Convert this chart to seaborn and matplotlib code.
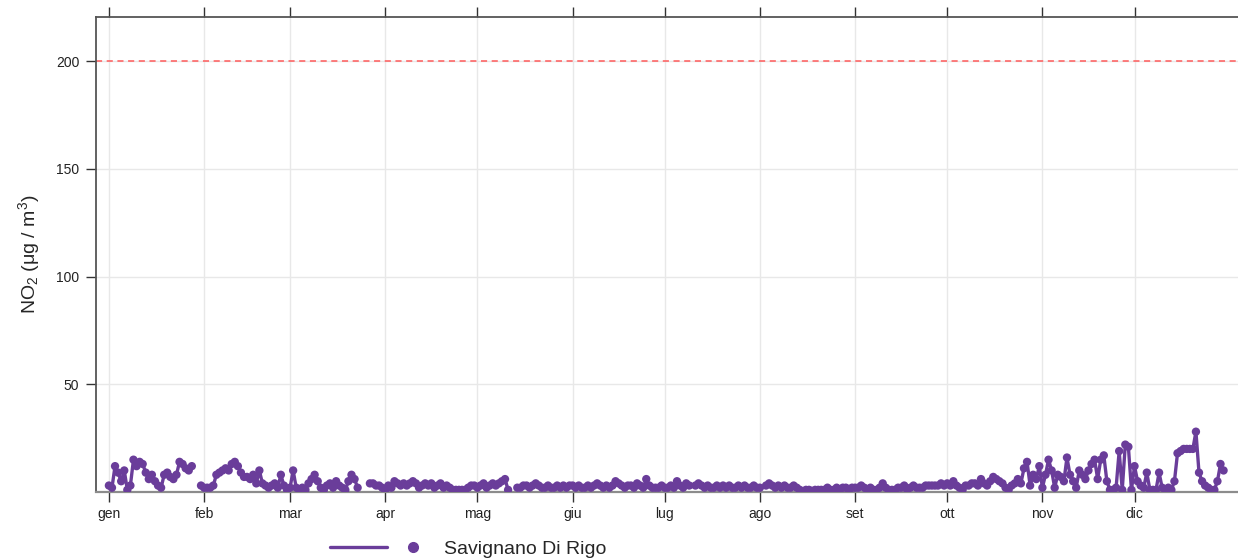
import numpy as np
import pandas as pd
import matplotlib
matplotlib.use("Agg")
import matplotlib.pyplot as plt
import seaborn as sns
from matplotlib.lines import Line2D
from matplotlib.legend_handler import HandlerTuple

# ---------------- data ----------------
station = "Savignano Di Rigo"
start_date = "2023-01-01"
month_labels = ["gen", "feb", "mar", "apr", "mag", "giu",
                "lug", "ago", "set", "ott", "nov", "dic"]
y_ticks = [50, 100, 150, 200]
limit_value = 200
N = None
# daily NO2 (µg/m3), None = missing day
no2_values = [
    # gen
    3, 2, 12, 9, 5, 10, 1, 3, 15, 12, 14, 13, 9, 6, 8, 5, 3, 2, 8, 9, 7, 6, 8, 14, 13, 11, 10, 12,
    N, N,
    # feb
    3, 2, 2, 2, 3, 8, 9, 10, 11, 10, 13, 14, 12, 9, 7, 7, 6, 8, 4, 10, 4, 3, 2, 3, 4, 2, 8, 3, 1, 2,
    # mar
    10, 2, 1, 2, 1, 4, 6, 8, 5, 2, 1, 3, 4, 2, 5, 3, 2, 1, 5, 8, 6, 2,
    N, N, N,
    # apr / mag
    4, 4, 3, 3, 2, 1, 3, 2, 5, 4,
    3, 4, 3, 4, 5, 4, 2, 3, 4, 3,
    4, 2, 3, 4, 2, 3, 2, 1, 1, 1,
    1, 1, 2, 3, 3, 2, 3, 4, 2, 3,
    4, 3, 4, 5, 6, 1,
    N, N,
    # mag / giu / lug
    2, 2, 3, 3, 2, 3, 4, 3, 2, 2,
    3, 2, 2, 3, 2, 3, 2, 3, 3, 2,
    3, 2, 2, 3, 2, 3, 4, 3, 2, 3,
    2, 3, 5, 4, 3, 2, 3, 3, 2, 4,
    3, 2, 6, 3, 2, 2, 2, 3, 2, 2,
    3, 2, 5, 3, 2, 4, 3,
    N,
    3, 4, 3, 2, 3, 2, 2, 3, 2, 3, 2, 3, 2, 2, 3, 2, 3, 2, 2, 3, 2, 2,
    N,
    # ago
    3, 4, 3, 2, 3, 2, 3, 2, 2, 3, 2, 1,
    N,
    1, 1, 0.5, 1, 1, 1, 1, 2, 1, 1,
    2, 1, 2, 2, 1, 2, 2, 2, 3, 2,
    1, 2, 1, 1, 2, 4, 2, 1, 1, 1,
    2, 2, 3, 1, 2, 3, 2, 2, 2, 3,
    3, 3, 3, 3, 4, 3,
    # ott
    4, 3, 5, 3, 2, 1, 3, 3, 4, 4, 3, 6, 4, 3, 5, 7, 6, 5, 4, 2, 1, 3, 4,
    # fine ott / nov / dic
    6, 4, 11, 14, 3, 8, 6, 12, 2, 8,
    15, 10, 2, 8, 7, 5, 16, 8, 5, 2,
    10, 8, 6, 10, 13, 15, 6, 15, 17, 5,
    1, 1, 2, 19, 1, 22, 21, 1, 12, 5,
    3, 2, 9, 1, 1, 1, 9, 2, 1, 2,
    1, 5, 18, 19, 20, 20, 20, 20, 28, 9,
    5, 3, 2, 1, 1, 5, 13, 10,
    N,
]

# ---------------- style ----------------
sns.set_style("white")
plt.rcParams["font.family"] = ["Liberation Sans", "DejaVu Sans"]
plt.rcParams["mathtext.fontset"] = "custom"
plt.rcParams["mathtext.rm"] = "Liberation Sans"
plt.rcParams["mathtext.it"] = "Liberation Sans:italic"

color = "#6A3D9A"

dates = pd.date_range(start_date, periods=len(no2_values), freq="D")
df = pd.DataFrame({"date": dates,
                   "no2": np.array([np.nan if v is None else v for v in no2_values], dtype=float)})
df["seg"] = df["no2"].isna().cumsum()
df = df.dropna()

W, H = 1238, 560
fig = plt.figure(figsize=(W / 100, H / 100), dpi=100)
ax = fig.add_axes([96 / W, 68 / H, 1 - 96 / W, (492 - 17) / H])

ax.axhline(limit_value, color="#ff5a5a", ls=(0, (4, 3)), lw=1.1, zorder=2)
sns.lineplot(data=df, x="date", y="no2", units="seg", estimator=None,
             color=color, lw=2.4, ax=ax, zorder=3, legend=False)
sns.scatterplot(data=df, x="date", y="no2", color=color, s=36,
                edgecolor="none", ax=ax, zorder=4, legend=False)

t0 = pd.Timestamp(start_date)
month_starts = pd.date_range(start_date, periods=12, freq="MS")
ax.set_xticks(month_starts)
ax.set_xticklabels(month_labels)
ax.set_yticks(y_ticks)
ax.set_xlim(t0 - pd.Timedelta(days=4.2), t0 + pd.Timedelta(days=367.7))
ax.set_ylim(0, 220.5)

ax.grid(True, color="#e8e8e8", lw=1)
ax.set_axisbelow(True)

for s in ["left", "top"]:
    ax.spines[s].set_color("#555555")
    ax.spines[s].set_linewidth(1.3)
ax.spines["bottom"].set_color("#8c8c8c")
ax.spines["bottom"].set_linewidth(1.6)
ax.spines["right"].set_visible(False)

ax.tick_params(axis="x", which="both", top=True, bottom=True, direction="out",
               length=7, width=1, color="#333333", labelsize=10, pad=4,
               labelcolor="#222222")
ax.tick_params(axis="y", left=True, direction="out", length=7, width=1,
               color="#333333", labelsize=10, pad=5, labelcolor="#222222")

ax.set_xlabel("")
ax.set_ylabel("NO$_2$ (μg / m$^3$)", fontsize=14)
ax.yaxis.set_label_coords(-0.047, 0.5)

line_h = Line2D([], [], color=color, lw=2.4)
dot_h = Line2D([], [], color=color, marker="o", ls="none", markersize=7)
fig.legend(handles=[(line_h, dot_h)], labels=[station],
           handler_map={tuple: HandlerTuple(ndivide=None, pad=-0.13)},
           loc="center left", bbox_to_anchor=(330 / W, 11 / H),
           frameon=False, fontsize=14, handlelength=5.75, handletextpad=0.1,
           borderpad=0, borderaxespad=0)

fig.savefig("out.png", dpi=100)
